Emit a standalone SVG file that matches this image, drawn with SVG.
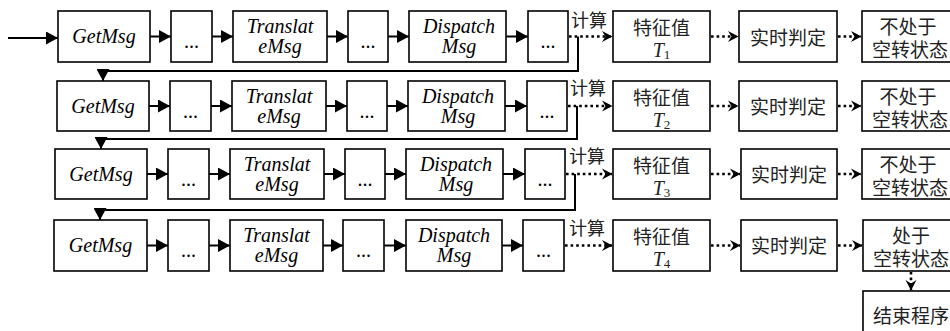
<svg xmlns="http://www.w3.org/2000/svg" width="950" height="331" viewBox="0 0 950 331">
<defs>
<style>
.box{fill:#fff;stroke:#000;stroke-width:1.6}
.en{font-family:'Liberation Serif','Times New Roman','DejaVu Serif',serif;font-style:italic;font-size:20px;text-anchor:middle;fill:#000}
.dots{font-family:'Liberation Serif','DejaVu Serif',serif;font-size:20px;text-anchor:middle;fill:#000}
.cn{font-family:'Liberation Serif','Noto Sans CJK SC',serif;font-size:19px;text-anchor:middle;fill:#222}
.lbl{font-family:'Liberation Serif','Noto Sans CJK SC',serif;font-size:18px;fill:#222}
.ti{font-family:'Liberation Serif','DejaVu Serif',serif;font-style:italic;font-size:20px}
.sub{font-family:'Liberation Serif','DejaVu Serif',serif;font-size:13px}
.sol{fill:none;stroke:#000;stroke-width:2}
.dot{fill:none;stroke:#000;stroke-width:2.6;stroke-dasharray:2.6 3}
</style>
<marker id="tri" markerUnits="userSpaceOnUse" markerWidth="12" markerHeight="13" viewBox="0 0 12 13" refX="12" refY="6.5" orient="auto"><path d="M0,0 L12,6.5 L0,13 Z" fill="#000"/></marker>
<marker id="barb" markerUnits="userSpaceOnUse" markerWidth="11" markerHeight="12" viewBox="0 0 11 12" refX="10" refY="6" orient="auto"><path d="M0,0.5 L10.5,6 L0,11.5 L3.5,6 Z" fill="#000"/></marker>
</defs>

<!-- Row 1 -->
<g id="r1-getmsg"><rect class="box" x="58" y="11" width="92" height="51"/><text class="en" font-family="Liberation Serif" x="104" y="43">GetMsg</text></g>
<g id="r1-d1"><rect class="box" x="171" y="11" width="41" height="51"/><text class="dots" font-family="Liberation Serif" x="191.5" y="48">...</text></g>
<g id="r1-translate"><rect class="box" x="233" y="11" width="94" height="51"/><text class="en" font-family="Liberation Serif" x="280" y="33">Translat</text><text class="en" font-family="Liberation Serif" x="280" y="53">eMsg</text></g>
<g id="r1-d2"><rect class="box" x="348" y="11" width="40" height="51"/><text class="dots" font-family="Liberation Serif" x="368" y="48">...</text></g>
<g id="r1-dispatch"><rect class="box" x="409" y="11" width="97" height="51"/><text class="en" font-family="Liberation Serif" x="459" y="33">Dispatch</text><text class="en" font-family="Liberation Serif" x="459" y="53">Msg</text></g>
<g id="r1-d3"><rect class="box" x="528" y="11" width="40" height="51"/><text class="dots" font-family="Liberation Serif" x="548" y="48">...</text></g>
<g id="r1-feat"><rect class="box" x="613" y="11" width="97" height="51"/><text class="cn" x="661.5" y="35">特征值</text><text class="cn" x="661.5" y="57"><tspan class="ti">T</tspan><tspan class="sub" dy="2">1</tspan></text></g>
<g id="r1-judge"><rect class="box" x="739" y="11" width="98" height="51"/><text class="cn" x="788" y="45">实时判定</text></g>
<g id="r1-state"><rect class="box" x="862" y="11" width="100" height="51"/><text class="cn" x="908" y="34">不处于</text><text class="cn" x="910" y="57">空转状态</text></g>
<text class="lbl" x="571" y="27">计算</text>

<!-- Row 2 -->
<g id="r2-getmsg"><rect class="box" x="57" y="81" width="92" height="50"/><text class="en" font-family="Liberation Serif" x="103" y="113">GetMsg</text></g>
<g id="r2-d1"><rect class="box" x="170" y="81" width="41" height="50"/><text class="dots" font-family="Liberation Serif" x="190.5" y="118">...</text></g>
<g id="r2-translate"><rect class="box" x="232" y="81" width="94" height="50"/><text class="en" font-family="Liberation Serif" x="279" y="103">Translat</text><text class="en" font-family="Liberation Serif" x="279" y="123">eMsg</text></g>
<g id="r2-d2"><rect class="box" x="347" y="81" width="40" height="50"/><text class="dots" font-family="Liberation Serif" x="367" y="118">...</text></g>
<g id="r2-dispatch"><rect class="box" x="408" y="81" width="97" height="50"/><text class="en" font-family="Liberation Serif" x="458" y="103">Dispatch</text><text class="en" font-family="Liberation Serif" x="458" y="123">Msg</text></g>
<g id="r2-d3"><rect class="box" x="527" y="81" width="40" height="50"/><text class="dots" font-family="Liberation Serif" x="547" y="118">...</text></g>
<g id="r2-feat"><rect class="box" x="613" y="81" width="97" height="50"/><text class="cn" x="661.5" y="105">特征值</text><text class="cn" x="661.5" y="127"><tspan class="ti">T</tspan><tspan class="sub" dy="2">2</tspan></text></g>
<g id="r2-judge"><rect class="box" x="739" y="81" width="98" height="50"/><text class="cn" x="788" y="114">实时判定</text></g>
<g id="r2-state"><rect class="box" x="862" y="81" width="100" height="50"/><text class="cn" x="908" y="104">不处于</text><text class="cn" x="910" y="127">空转状态</text></g>
<text class="lbl" x="570" y="95">计算</text>

<!-- Row 3 -->
<g id="r3-getmsg"><rect class="box" x="55" y="149" width="92" height="50"/><text class="en" font-family="Liberation Serif" x="101" y="181">GetMsg</text></g>
<g id="r3-d1"><rect class="box" x="168" y="149" width="41" height="50"/><text class="dots" font-family="Liberation Serif" x="188.5" y="186">...</text></g>
<g id="r3-translate"><rect class="box" x="230" y="149" width="94" height="50"/><text class="en" font-family="Liberation Serif" x="277" y="171">Translat</text><text class="en" font-family="Liberation Serif" x="277" y="191">eMsg</text></g>
<g id="r3-d2"><rect class="box" x="345" y="149" width="40" height="50"/><text class="dots" font-family="Liberation Serif" x="365" y="186">...</text></g>
<g id="r3-dispatch"><rect class="box" x="406" y="149" width="97" height="50"/><text class="en" font-family="Liberation Serif" x="456" y="171">Dispatch</text><text class="en" font-family="Liberation Serif" x="456" y="191">Msg</text></g>
<g id="r3-d3"><rect class="box" x="525" y="149" width="40" height="50"/><text class="dots" font-family="Liberation Serif" x="545" y="186">...</text></g>
<g id="r3-feat"><rect class="box" x="613" y="149" width="97" height="50"/><text class="cn" x="661.5" y="173">特征值</text><text class="cn" x="661.5" y="195"><tspan class="ti">T</tspan><tspan class="sub" dy="2">3</tspan></text></g>
<g id="r3-judge"><rect class="box" x="741" y="149" width="96" height="50"/><text class="cn" x="789" y="182">实时判定</text></g>
<g id="r3-state"><rect class="box" x="862" y="149" width="100" height="50"/><text class="cn" x="908" y="172">不处于</text><text class="cn" x="910" y="195">空转状态</text></g>
<text class="lbl" x="569" y="163">计算</text>

<!-- Row 4 -->
<g id="r4-getmsg"><rect class="box" x="54" y="220" width="93" height="51"/><text class="en" font-family="Liberation Serif" x="100.5" y="252">GetMsg</text></g>
<g id="r4-d1"><rect class="box" x="168" y="220" width="41" height="51"/><text class="dots" font-family="Liberation Serif" x="188.5" y="257">...</text></g>
<g id="r4-translate"><rect class="box" x="230" y="220" width="93" height="51"/><text class="en" font-family="Liberation Serif" x="276.5" y="242">Translat</text><text class="en" font-family="Liberation Serif" x="276.5" y="262">eMsg</text></g>
<g id="r4-d2"><rect class="box" x="343" y="220" width="41" height="51"/><text class="dots" font-family="Liberation Serif" x="363.5" y="257">...</text></g>
<g id="r4-dispatch"><rect class="box" x="406" y="220" width="96" height="51"/><text class="en" font-family="Liberation Serif" x="454" y="242">Dispatch</text><text class="en" font-family="Liberation Serif" x="454" y="262">Msg</text></g>
<g id="r4-d3"><rect class="box" x="523" y="220" width="41" height="51"/><text class="dots" font-family="Liberation Serif" x="543.5" y="257">...</text></g>
<g id="r4-feat"><rect class="box" x="613" y="220" width="97" height="51"/><text class="cn" x="661.5" y="244">特征值</text><text class="cn" x="661.5" y="266"><tspan class="ti">T</tspan><tspan class="sub" dy="2">4</tspan></text></g>
<g id="r4-judge"><rect class="box" x="741" y="220" width="96" height="51"/><text class="cn" x="789" y="253">实时判定</text></g>
<g id="r4-state"><rect class="box" x="863" y="220" width="100" height="51"/><text class="cn" x="911" y="243">处于</text><text class="cn" x="911" y="266">空转状态</text></g>
<text class="lbl" x="569" y="235">计算</text>

<g id="end"><rect class="box" x="863" y="291" width="100" height="50"/><text class="cn" x="911" y="323">结束程序</text></g>

<g id="connectors">
<line class="sol" x1="8" y1="38" x2="58" y2="38" marker-end="url(#tri)"/>
<line class="sol" x1="150" y1="36.5" x2="171" y2="36.5" marker-end="url(#tri)"/>
<line class="sol" x1="212" y1="36.5" x2="233" y2="36.5" marker-end="url(#tri)"/>
<line class="sol" x1="327" y1="36.5" x2="348" y2="36.5" marker-end="url(#tri)"/>
<line class="sol" x1="388" y1="36.5" x2="409" y2="36.5" marker-end="url(#tri)"/>
<line class="sol" x1="506" y1="36.5" x2="528" y2="36.5" marker-end="url(#tri)"/>
<line class="dot" x1="569" y1="36.5" x2="612" y2="36.5" marker-end="url(#barb)"/>
<line class="dot" x1="711" y1="36.5" x2="738" y2="36.5" marker-end="url(#barb)"/>
<line class="dot" x1="838" y1="36.5" x2="861" y2="36.5" marker-end="url(#barb)"/>
<polyline class="sol" points="578,36.5 578,71 103,71 103,81" marker-end="url(#tri)"/>
<line class="sol" x1="149" y1="106" x2="170" y2="106" marker-end="url(#tri)"/>
<line class="sol" x1="211" y1="106" x2="232" y2="106" marker-end="url(#tri)"/>
<line class="sol" x1="326" y1="106" x2="347" y2="106" marker-end="url(#tri)"/>
<line class="sol" x1="387" y1="106" x2="408" y2="106" marker-end="url(#tri)"/>
<line class="sol" x1="505" y1="106" x2="527" y2="106" marker-end="url(#tri)"/>
<line class="dot" x1="568" y1="106" x2="612" y2="106" marker-end="url(#barb)"/>
<line class="dot" x1="711" y1="106" x2="738" y2="106" marker-end="url(#barb)"/>
<line class="dot" x1="838" y1="106" x2="861" y2="106" marker-end="url(#barb)"/>
<polyline class="sol" points="577,106 577,139 101,139 101,149" marker-end="url(#tri)"/>
<line class="sol" x1="147" y1="174" x2="168" y2="174" marker-end="url(#tri)"/>
<line class="sol" x1="209" y1="174" x2="230" y2="174" marker-end="url(#tri)"/>
<line class="sol" x1="324" y1="174" x2="345" y2="174" marker-end="url(#tri)"/>
<line class="sol" x1="385" y1="174" x2="406" y2="174" marker-end="url(#tri)"/>
<line class="sol" x1="503" y1="174" x2="525" y2="174" marker-end="url(#tri)"/>
<line class="dot" x1="566" y1="174" x2="612" y2="174" marker-end="url(#barb)"/>
<line class="dot" x1="711" y1="174" x2="740" y2="174" marker-end="url(#barb)"/>
<line class="dot" x1="838" y1="174" x2="861" y2="174" marker-end="url(#barb)"/>
<polyline class="sol" points="575,174 575,210 100,210 100,220" marker-end="url(#tri)"/>
<line class="sol" x1="147" y1="245.5" x2="168" y2="245.5" marker-end="url(#tri)"/>
<line class="sol" x1="209" y1="245.5" x2="230" y2="245.5" marker-end="url(#tri)"/>
<line class="sol" x1="323" y1="245.5" x2="343" y2="245.5" marker-end="url(#tri)"/>
<line class="sol" x1="384" y1="245.5" x2="406" y2="245.5" marker-end="url(#tri)"/>
<line class="sol" x1="502" y1="245.5" x2="523" y2="245.5" marker-end="url(#tri)"/>
<line class="dot" x1="565" y1="245.5" x2="612" y2="245.5" marker-end="url(#barb)"/>
<line class="dot" x1="711" y1="245.5" x2="740" y2="245.5" marker-end="url(#barb)"/>
<line class="dot" x1="838" y1="245.5" x2="862" y2="245.5" marker-end="url(#barb)"/>
<line class="dot" x1="911" y1="272" x2="911" y2="290" marker-end="url(#barb)"/>
</g>
</svg>
